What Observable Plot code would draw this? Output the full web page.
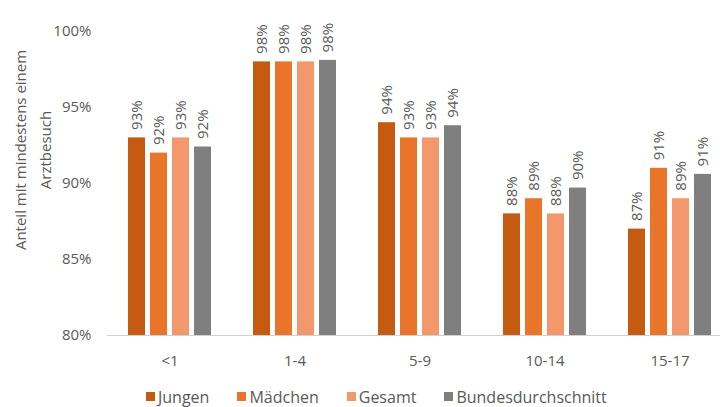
<!DOCTYPE html>
<html>
<head>
<meta charset="utf-8">
<script src="https://cdn.jsdelivr.net/npm/d3@7"></script>
<script src="https://cdn.jsdelivr.net/npm/@observablehq/plot@0.6"></script>
<style>
  html, body { margin: 0; padding: 0; background: #fff; overflow: hidden; }
  #chart { position: relative; width: 720px; height: 407px; overflow: hidden; }
  #chart > svg { max-width: none !important; }
  #legend { position: absolute; left: 146px; top: 380px; }
  #legend div.lg-swatches .lg-swatch { margin-right: 28px; }
  #legend div.lg-swatches .lg-swatch > svg { margin-right: 3px; }
</style>
</head>
<body>
<div id="chart"></div>
<script>
// Age groups and the four compared series
const groups = ["<1", "1-4", "5-9", "10-14", "15-17"];
const series = ["Jungen", "Mädchen", "Gesamt", "Bundesdurchschnitt"];
const colors = ["#c55a11", "#e9752a", "#f3976c", "#7f7f7f"];

// Share with at least one doctor visit, per age group
const jungen  = [0.93, 0.98, 0.94, 0.88, 0.87];
const maedchen = [0.92, 0.98, 0.93, 0.89, 0.91];
const gesamt  = [0.93, 0.98, 0.93, 0.88, 0.89];
const bund    = [0.924, 0.981, 0.938, 0.897, 0.906];

const yTicks = [0.80, 0.85, 0.90, 0.95, 1.00];
const yMin = 0.80;
const yTitle = ["Anteil mit mindestens einem", "Arztbesuch"];

const valuesBySeries = [jungen, maedchen, gesamt, bund];
const data = [];
groups.forEach((g, i) => {
  series.forEach((s, j) => {
    data.push({group: g, series: s, value: valuesBySeries[j][i]});
  });
});

const fmt = d3.format(".0%");
const textColor = "#595959";

const plot = Plot.plot({
  width: 732,
  height: 372,
  marginTop: 31,
  marginBottom: 37,
  marginLeft: 107,
  marginRight: 0,
  style: {fontFamily: "'Open Sans', sans-serif", fontSize: "15px", color: textColor, background: "#fff", overflow: "visible", maxWidth: "none"},
  fx: {domain: groups, paddingInner: 0, paddingOuter: 0, label: null, axis: null},
  x: {domain: series, paddingInner: 0.21, paddingOuter: 0.83, axis: null},
  y: {domain: [yMin, 1], ticks: yTicks, tickFormat: ".0%", label: null},
  color: {domain: series, range: colors},
  marks: [
    Plot.axisY({ticks: yTicks, tickFormat: ".0%", tickSize: 0, tickPadding: 16, label: null, fontSize: 15}),
    Plot.axisFx({anchor: "bottom", tickSize: 0, tickPadding: 20, label: null, fontSize: 15}),
    Plot.barY(data, {fx: "group", x: "series", y1: yMin, y2: "value", fill: "series"}),
    Plot.ruleY([yMin], {stroke: "#d0d0d0", strokeWidth: 1.2}),
    Plot.text(data, {
      fx: "group", x: "series", y: "value",
      text: d => fmt(d.value),
      rotate: -90, textAnchor: "start", lineAnchor: "middle",
      dy: -8, fill: textColor, fontSize: 15
    })
  ]
});

// Two-line rotated y-axis title, each line centred on the same height
const svg = d3.select(plot);
yTitle.forEach((line, k) => {
  svg.append("text")
    .attr("transform", `translate(${21 + k * 25},150) rotate(-90)`)
    .attr("text-anchor", "middle")
    .attr("dy", "0.35em")
    .attr("fill", textColor)
    .style("font-family", "'Open Sans', sans-serif")
    .style("font-size", "15px")
    .text(line);
});

const chart = document.getElementById("chart");
chart.appendChild(plot);

const legend = Plot.legend({
  color: {domain: series, range: colors},
  swatchSize: 9,
  className: "lg",
  style: {fontFamily: "'Open Sans', sans-serif", fontSize: "16px", color: textColor}
});
const holder = document.createElement("div");
holder.id = "legend";
holder.appendChild(legend);
chart.appendChild(holder);
</script>
</body>
</html>
